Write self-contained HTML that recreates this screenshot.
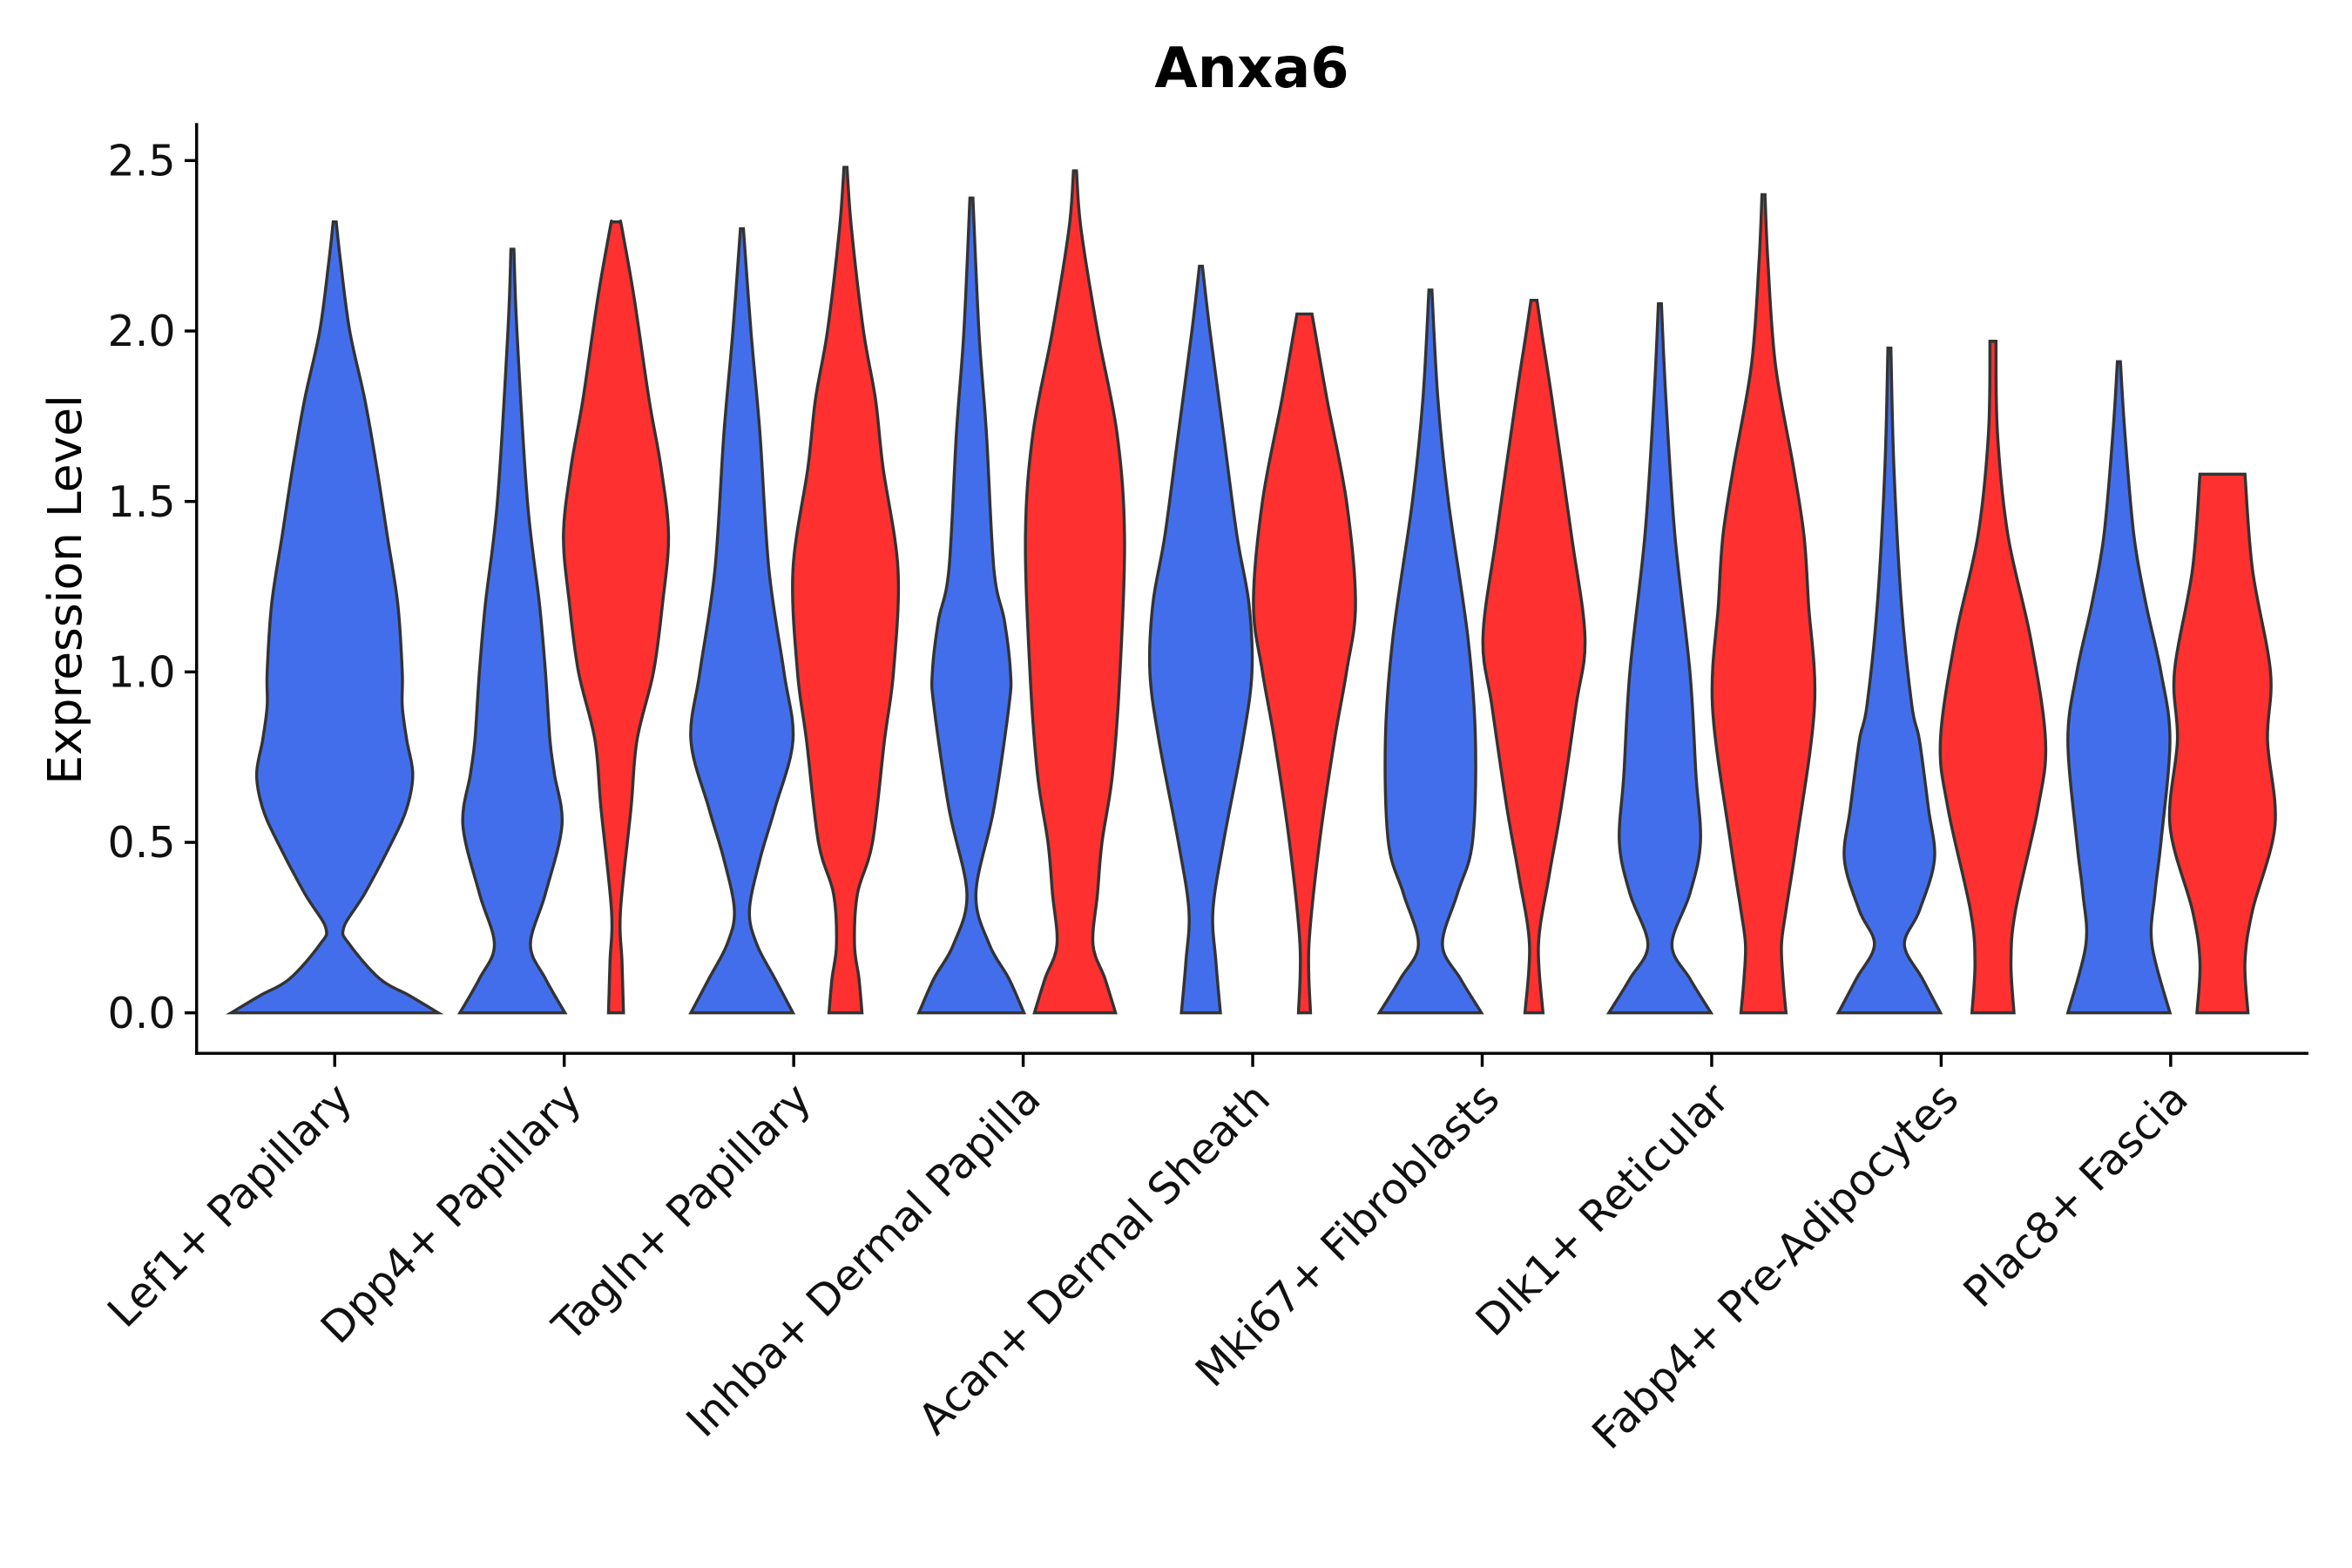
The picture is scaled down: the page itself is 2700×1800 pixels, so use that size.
<!DOCTYPE html>
<html><head><meta charset="utf-8"><style>
html,body{margin:0;padding:0;background:#fff;}
svg{display:block;font-family:"DejaVu Sans","Liberation Sans",sans-serif;}
</style></head><body>
<svg id="chart" width="2700" height="1800" viewBox="0 0 1567 1045" preserveAspectRatio="none" xmlns="http://www.w3.org/2000/svg">
<rect x="0" y="0" width="1567" height="1045" fill="#fff"/>
<text x="834" y="58" text-anchor="middle" font-size="37" font-weight="bold" fill="#000">Anxa6</text>
<text transform="translate(54,393) rotate(-90)" text-anchor="middle" font-size="31" fill="#000">Expression Level</text>
<g id="violins"></g>
<g id="axes"></g>
</svg>
<script>
const categories = ["Lef1+ Papillary","Dpp4+ Papillary","Tagln+ Papillary","Inhba+ Dermal Papilla","Acan+ Dermal Sheath","Mki67+ Fibroblasts","Dlk1+ Reticular","Fabp4+ Pre-Adipocytes","Plac8+ Fascia"];
const yTicks = [0,0.5,1,1.5,2,2.5];
const yTickLabels = ["0.0","0.5","1.0","1.5","2.0","2.5"];
// density profiles: [expression value, half-width]
const blueProfiles = [
 [[0,69],[0.05,50],[0.1,30],[0.2,10],[0.25,6],[0.35,20],[0.5,38],[0.6,48],[0.7,52],[0.8,48],[0.9,45],[1.0,45],[1.2,42],[1.4,35],[1.6,28],[1.8,20],[2.0,10],[2.2,4],[2.32,1]],
 [[0,35],[0.1,22],[0.2,12],[0.35,22],[0.55,33],[0.7,28],[0.8,25],[1.0,22],[1.2,18],[1.5,10],[2.0,3],[2.24,1]],
 [[0,34],[0.1,22],[0.2,10],[0.3,5],[0.45,12],[0.6,22],[0.8,34],[1.0,28],[1.3,18],[1.7,12],[2.0,6],[2.3,1]],
 [[0,35],[0.1,25],[0.2,12],[0.35,3],[0.6,15],[0.9,25],[1.0,26],[1.15,22],[1.3,15],[1.7,10],[2.0,5],[2.39,1]],
 [[0,13],[0.15,10],[0.3,8],[0.5,15],[0.8,28],[1.0,34],[1.2,32],[1.4,24],[1.7,15],[2.0,6],[2.19,1]],
 [[0,34],[0.1,20],[0.2,8],[0.35,18],[0.5,28],[0.8,30],[1.1,25],[1.5,12],[1.8,5],[2.12,1]],
 [[0,34],[0.1,20],[0.2,8],[0.35,20],[0.5,27],[0.7,24],[1.0,20],[1.4,10],[1.8,4],[2.08,1]],
 [[0,34],[0.1,22],[0.2,10],[0.3,20],[0.45,30],[0.6,26],[0.8,20],[0.9,15],[1.2,8],[1.6,3],[1.95,1]],
 [[0,34],[0.2,22],[0.35,24],[0.5,28],[0.8,34],[1.0,28],[1.2,18],[1.4,10],[1.7,4],[1.91,1]]
];
const redProfiles = [
 null,
 [[0,5],[0.15,4],[0.3,3],[0.6,10],[0.8,14],[1.0,25],[1.2,31],[1.4,35],[1.6,30],[1.8,22],[2.1,12],[2.3,4],[2.32,3]],
 [[0,11],[0.1,9],[0.2,6],[0.35,8],[0.5,18],[0.8,26],[1.0,32],[1.3,35],[1.6,25],[1.8,20],[2.0,12],[2.3,4],[2.48,1]],
 [[0,27],[0.1,20],[0.2,12],[0.35,15],[0.5,18],[0.7,25],[1.0,30],[1.4,33],[1.7,28],[2.0,15],[2.3,4],[2.47,1]],
 [[0,4],[0.2,3],[0.5,10],[0.8,20],[1.0,28],[1.2,34],[1.5,28],[1.8,15],[2.0,7],[2.05,5]],
 [[0,6],[0.2,3],[0.4,10],[0.6,18],[0.9,28],[1.1,34],[1.4,25],[1.8,12],[2.0,5],[2.09,2]],
 [[0,15],[0.1,13],[0.2,12],[0.3,15],[0.5,22],[0.9,34],[1.2,30],[1.4,27],[1.6,20],[1.9,8],[2.2,3],[2.4,1]],
 [[0,14],[0.15,12],[0.3,15],[0.6,30],[0.8,35],[1.1,25],[1.4,10],[1.7,3],[1.97,2]],
 [[0,17],[0.15,15],[0.3,20],[0.55,35],[0.8,30],[1.0,32],[1.3,20],[1.58,15]]
];

const svgNS="http://www.w3.org/2000/svg";
const plotLeft=131, plotRight=1538, plotBottom=702;
const yScale = v => 675 - v*(675-107)/2.5;
const xCenter = i => 223 + i*152.9;
const offset = 34.5;

function smoothPath(pts){
  let d="M"+pts[0][0]+","+pts[0][1];
  for(let i=0;i<pts.length-1;i++){
    const p0=pts[i-1]||pts[i], p1=pts[i], p2=pts[i+1], p3=pts[i+2]||p2;
    const c1=[p1[0]+(p2[0]-p0[0])/6, p1[1]+(p2[1]-p0[1])/6];
    const c2=[p2[0]-(p3[0]-p1[0])/6, p2[1]-(p3[1]-p1[1])/6];
    d+=" C"+c1[0].toFixed(2)+","+c1[1].toFixed(2)+" "+c2[0].toFixed(2)+","+c2[1].toFixed(2)+" "+p2[0].toFixed(2)+","+p2[1].toFixed(2);
  }
  return d;
}
function violinPath(cx, prof){
  const right=prof.map(p=>[cx+p[1], yScale(p[0])]);
  const left=prof.slice().reverse().map(p=>[cx-p[1], yScale(p[0])]);
  let d=smoothPath(right);
  d+=" L"+left[0][0]+","+left[0][1];
  d+=smoothPath(left).replace(/^M[^ ]+/,"");
  return d+" Z";
}
const vg=document.getElementById("violins");
categories.forEach((c,i)=>{
  const b=blueProfiles[i], r=redProfiles[i];
  const bx = r ? xCenter(i)-offset : xCenter(i);
  const pb=document.createElementNS(svgNS,"path");
  pb.setAttribute("d",violinPath(bx,b));
  pb.setAttribute("fill","#436EEB");pb.setAttribute("stroke","#333");pb.setAttribute("stroke-width","2");
  
  
  vg.appendChild(pb);
  if(r){
    const pr=document.createElementNS(svgNS,"path");
    pr.setAttribute("d",violinPath(xCenter(i)+offset,r));
    pr.setAttribute("fill","#FF3030");pr.setAttribute("stroke","#333");pr.setAttribute("stroke-width","2");
    
    
    vg.appendChild(pr);
  }
});
const ag=document.getElementById("axes");
function line(x1,y1,x2,y2,name){
  const l=document.createElementNS(svgNS,"line");
  l.setAttribute("x1",x1);l.setAttribute("y1",y1);l.setAttribute("x2",x2);l.setAttribute("y2",y2);
  l.setAttribute("stroke","#000");l.setAttribute("stroke-width","2");
  
  
  ag.appendChild(l);
}
line(plotLeft,82,plotLeft,plotBottom+1,"y-axis-line");
line(plotLeft-1,plotBottom,plotRight,plotBottom,"x-axis-line");
yTicks.forEach((v,i)=>{
  line(plotLeft-8,yScale(v),plotLeft,yScale(v),"y-tick");
  const t=document.createElementNS(svgNS,"text");
  t.setAttribute("x",plotLeft-14);t.setAttribute("y",yScale(v)+10);
  t.setAttribute("text-anchor","end");t.setAttribute("font-size","28.5");t.setAttribute("fill","#111");
  t.textContent=yTickLabels[i];
  
  
  ag.appendChild(t);
});
categories.forEach((c,i)=>{
  const x=xCenter(i);
  line(x,plotBottom,x,plotBottom+9,"x-tick");
  const t=document.createElementNS(svgNS,"text");
  t.setAttribute("transform","translate("+(x+13)+","+(plotBottom+32)+") rotate(-45)");
  t.setAttribute("text-anchor","end");t.setAttribute("font-size","28.5");t.setAttribute("fill","#111");
  t.textContent=c;
  
  
  ag.appendChild(t);
});
</script>
</body></html>
